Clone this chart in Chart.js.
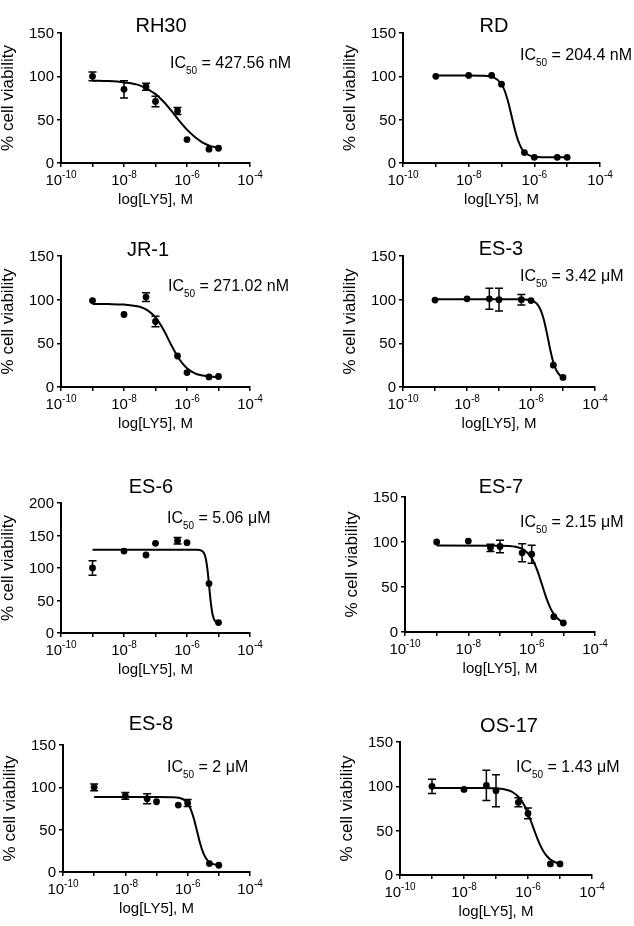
<!DOCTYPE html>
<html>
<head>
<meta charset="utf-8">
<script src="https://cdn.jsdelivr.net/npm/chart.js@4.4.1/dist/chart.umd.min.js"></script>
<style>
  body { margin: 0; background: #fff; }
  #page { position: relative; width: 634px; height: 926px; overflow: hidden; background: #fff; }
  #page canvas { position: absolute; }
</style>
</head>
<body>
<div id="page"></div>
<script>
// ---- data ----
const cellLines = ['RH30', 'RD', 'JR-1', 'ES-3', 'ES-6', 'ES-7', 'ES-8', 'OS-17'];
const ic50Values = ['427.56 nM', '204.4 nM', '271.02 nM', '3.42 μM', '5.06 μM', '2.15 μM', '2 μM', '1.43 μM'];
const concentrations = [1e-9, 1e-8, 5e-8, 1e-7, 5e-7, 1e-6, 5e-6, 1e-5];
const yAxisMax = [150, 150, 150, 150, 200, 150, 150, 150];
const yTickStep = 50;
const xTickExponents = [-10, -9, -8, -7, -6, -5, -4];
const xLabelExponents = [-10, -8, -6, -4];

// % cell viability (mean) and error at each concentration
const rh30Mean = [100, 85, 88, 71, 60, 27, 16, 17];
const rh30Err = [5, 10, 4, 6, 4, 3, 1, 1];
const rdMean = [100, 101, 101, 91, 12, 6.5, 6.5, 6.5];
const rdErr = [1, 1, 1, 1, 1, 0.5, 0.5, 0.5];
const jr1Mean = [99, 83, 103, 75, 35.5, 16.5, 11.5, 12];
const jr1Err = [3, 1, 5, 6, 1.5, 1, 1, 1];
const es3Mean = [99.5, 101, 101, 100, 100, 99, 25, 11];
const es3Err = [2.5, 1, 12, 13, 6, 1, 1.5, 1];
const es6Mean = [100, 126, 120, 138, 142, 139, 76, 16];
const es6Err = [11, 4, 1, 1, 5, 3, 4, 1];
const es7Mean = [100, 101, 93.5, 95, 88, 86.5, 17, 10];
const es7Err = [2, 1, 4, 7, 10, 10, 1, 1];
const es8Mean = [100, 90, 86.5, 83, 79, 81.5, 10, 8];
const es8Err = [4, 4, 6, 1, 1, 4, 1, 1];
const os17Mean = [100, 96.5, 101, 95, 82, 69.5, 12.5, 12.5];
const os17Err = [8, 3, 17, 18, 5, 6, 1, 1];

// fitted curves (x as log10 of concentration)
const rh30FitX = [-9, -8.5, -8, -7.5, -7, -6.75, -6.5, -6.25, -6, -5.75, -5.5, -5.25, -5];
const rh30FitY = [95, 94.5, 93, 89.5, 79.5, 71, 60.5, 49, 38.5, 30, 23.5, 19.5, 17.5];
const rdFitX = [-9, -8, -7.5, -7.25, -7, -6.9, -6.8, -6.7, -6.6, -6.5, -6.4, -6.3, -6.15, -6, -5.5, -5];
const rdFitY = [101, 101, 100.6, 99.1, 91.1, 83.1, 70.9, 55.4, 39.5, 26.5, 17.7, 12.5, 8.7, 7.3, 6.5, 6.5];
const jr1FitX = [-9, -8.5, -8, -7.5, -7.25, -7, -6.75, -6.5, -6.25, -6, -5.75, -5.5, -5.25, -5];
const jr1FitY = [95, 94.9, 94.4, 91.8, 87.7, 79.6, 65.8, 48.2, 32, 21.4, 15.7, 13.1, 11.9, 11.4];
const es3FitX = [-9, -7, -6.5, -6.2, -6, -5.9, -5.8, -5.7, -5.6, -5.5, -5.4, -5.3, -5.2, -5.1, -5];
const es3FitY = [100.5, 100.5, 100.5, 100.2, 99.3, 97.8, 94.7, 88.4, 77.3, 61, 43, 28, 18.6, 13.5, 11];
const es6FitX = [-9, -7, -6, -5.7, -5.6, -5.5, -5.45, -5.4, -5.35, -5.3, -5.25, -5.2, -5.15, -5.1, -5];
const es6FitY = [128, 128, 128, 127.9, 127.6, 125.4, 121.7, 113.5, 97.5, 73.6, 48.9, 31.5, 22.2, 18, 15.5];
const es7FitX = [-9, -7, -6.5, -6.25, -6, -5.9, -5.8, -5.7, -5.6, -5.5, -5.4, -5.3, -5.2, -5.1, -5];
const es7FitY = [96, 95.9, 94.7, 91.6, 82.2, 75.2, 66.2, 55.5, 44.5, 34.3, 26, 19.8, 15.5, 12.7, 10.9];
const es8FitX = [-9, -7, -6.5, -6.25, -6.1, -6, -5.9, -5.8, -5.7, -5.6, -5.5, -5.4, -5.3, -5.2, -5];
const es8FitY = [88.5, 88.5, 88.3, 87.3, 84.8, 81, 74, 62.8, 48.3, 33.6, 22.5, 15.5, 11.5, 9.6, 8.2];
const os17FitX = [-9, -7.5, -7, -6.75, -6.5, -6.25, -6.1, -6, -5.9, -5.8, -5.7, -5.6, -5.5, -5.4, -5.3, -5.15, -5];
const os17FitY = [98, 98, 97.6, 96.7, 93.9, 86.3, 77.5, 69.4, 60, 50, 40.5, 32.3, 25.7, 20.9, 17.5, 14.4, 12.7];

const meanSets = [rh30Mean, rdMean, jr1Mean, es3Mean, es6Mean, es7Mean, es8Mean, os17Mean];
const errSets = [rh30Err, rdErr, jr1Err, es3Err, es6Err, es7Err, es8Err, os17Err];
const fitXSets = [rh30FitX, rdFitX, jr1FitX, es3FitX, es6FitX, es7FitX, es8FitX, os17FitX];
const fitYSets = [rh30FitY, rdFitY, jr1FitY, es3FitY, es6FitY, es7FitY, es8FitY, os17FitY];

// ---- layout (page pixels) ----
const FONT = "'Liberation Sans', Arial, Helvetica, sans-serif";
const TICK_LEN = 4;
const rowTop = [0, 230, 460, 695];
const rowHeight = [230, 230, 235, 231];
// plot area: left, top, right, bottom
const plotAreas = [
  [61, 33, 250, 163], [403, 33, 600, 163],
  [61, 256, 250, 387], [403, 256, 595, 387],
  [61, 503, 250, 633], [405, 497, 595, 632],
  [63, 745, 250, 872], [400, 742, 592, 875]
];
// title centre x, baseline y
const titlePos = [[161, 32], [494, 32], [148, 256], [501, 255], [151, 493], [501, 493], [151, 730], [509, 732]];
// IC50 text left x, baseline y
const icPos = [[170, 68], [520, 60], [168, 291], [520, 281], [167, 523], [520, 527], [167, 772], [516, 772]];

// draws error bars through the chart's scales
const errorBars = {
  id: 'errorBars',
  afterDatasetsDraw(chart, args, opts) {
    const ctx = chart.ctx;
    const xs = chart.scales.x, ys = chart.scales.y;
    ctx.save();
    ctx.strokeStyle = '#000';
    ctx.lineWidth = 1.5;
    opts.mean.forEach((m, i) => {
      const x = xs.getPixelForValue(concentrations[i]);
      const y1 = ys.getPixelForValue(m + opts.err[i]);
      const y2 = ys.getPixelForValue(m - opts.err[i]);
      if (y2 - y1 < 6) return;
      ctx.beginPath();
      ctx.moveTo(x, y1); ctx.lineTo(x, y2);
      ctx.moveTo(x - 4, y1); ctx.lineTo(x + 4, y1);
      ctx.moveTo(x - 4, y2); ctx.lineTo(x + 4, y2);
      ctx.stroke();
    });
    ctx.restore();
  }
};

// tick labels, axis titles, panel title and IC50 note
const panelText = {
  id: 'panelText',
  afterDraw(chart, args, opts) {
    const ctx = chart.ctx;
    const { left, right, top, bottom } = chart.chartArea;
    const xs = chart.scales.x, ys = chart.scales.y;
    ctx.save();
    ctx.fillStyle = '#000';

    ctx.font = '15px ' + FONT;
    ctx.textAlign = 'right';
    ctx.textBaseline = 'middle';
    ys.ticks.forEach(t => ctx.fillText(String(t.value), left - 7, ys.getPixelForValue(t.value) + 1));

    ctx.textBaseline = 'alphabetic';
    ctx.textAlign = 'left';
    xLabelExponents.forEach(e => {
      const px = xs.getPixelForValue(Math.pow(10, e));
      ctx.font = '15px ' + FONT;
      const w1 = ctx.measureText('10').width;
      ctx.font = '10px ' + FONT;
      const sup = String(e);
      const w2 = ctx.measureText(sup).width;
      const x0 = px - (w1 + w2) / 2;
      ctx.font = '15px ' + FONT;
      ctx.fillText('10', x0, bottom + 22);
      ctx.font = '10px ' + FONT;
      ctx.fillText(sup, x0 + w1, bottom + 15);
    });

    ctx.font = '15px ' + FONT;
    ctx.textAlign = 'center';
    ctx.fillText('log[LY5], M', (left + right) / 2, bottom + 41);

    ctx.save();
    ctx.translate(left - 53, (top + bottom) / 2);
    ctx.rotate(-Math.PI / 2);
    ctx.textBaseline = 'middle';
    ctx.font = '17px ' + FONT;
    ctx.fillText('% cell viability', 0, 0);
    ctx.restore();

    ctx.font = '20px ' + FONT;
    ctx.textAlign = 'center';
    ctx.fillText(opts.title, opts.titleX, opts.titleY);

    ctx.textAlign = 'left';
    let x = opts.icX;
    ctx.font = '16px ' + FONT;
    ctx.fillText('IC', x, opts.icY);
    x += ctx.measureText('IC').width;
    ctx.font = '10px ' + FONT;
    ctx.fillText('50', x, opts.icY + 6);
    x += ctx.measureText('50').width;
    ctx.font = '16px ' + FONT;
    ctx.fillText(' = ' + opts.ic50, x, opts.icY);
    ctx.restore();
  }
};

const page = document.getElementById('page');

cellLines.forEach((name, i) => {
  const col = i % 2, row = Math.floor(i / 2);
  const cx = col * 317, cy = rowTop[row], cw = 317, ch = rowHeight[row];
  const [L, T, R, B] = plotAreas[i];

  const canvas = document.createElement('canvas');
  canvas.width = cw;
  canvas.height = ch;
  canvas.style.left = cx + 'px';
  canvas.style.top = cy + 'px';
  canvas.style.width = cw + 'px';
  canvas.style.height = ch + 'px';
  page.appendChild(canvas);

  const fitPoints = fitXSets[i].map((lx, k) => ({ x: Math.pow(10, lx), y: fitYSets[i][k] }));
  const meanPoints = meanSets[i].map((v, k) => ({ x: concentrations[k], y: v }));

  new Chart(canvas, {
    type: 'scatter',
    data: {
      datasets: [
        {
          data: fitPoints,
          showLine: true,
          borderColor: '#000',
          borderWidth: 2,
          pointRadius: 0,
          cubicInterpolationMode: 'monotone',
          fill: false,
          clip: false
        },
        {
          data: meanPoints,
          showLine: false,
          pointRadius: 3.4,
          pointBackgroundColor: '#000',
          pointBorderColor: '#000',
          pointBorderWidth: 0,
          clip: false
        }
      ]
    },
    options: {
      responsive: false,
      animation: false,
      devicePixelRatio: 1,
      events: [],
      layout: {
        padding: {
          left: L - cx - TICK_LEN,
          top: T - cy,
          right: cx + cw - R,
          bottom: cy + ch - B - TICK_LEN
        }
      },
      plugins: {
        legend: { display: false },
        tooltip: { enabled: false },
        errorBars: { mean: meanSets[i], err: errSets[i] },
        panelText: {
          title: name,
          titleX: titlePos[i][0] - cx,
          titleY: titlePos[i][1] - cy,
          ic50: ic50Values[i],
          icX: icPos[i][0] - cx,
          icY: icPos[i][1] - cy
        }
      },
      scales: {
        x: {
          type: 'logarithmic',
          min: 1e-10,
          max: 1e-4,
          afterBuildTicks: s => { s.ticks = xTickExponents.map(e => ({ value: Math.pow(10, e) })); },
          ticks: { display: false },
          grid: { drawOnChartArea: false, drawTicks: true, tickLength: TICK_LEN, color: '#000', lineWidth: 1.5 },
          border: { display: true, color: '#000', width: 2 }
        },
        y: {
          min: 0,
          max: yAxisMax[i],
          ticks: { display: false, stepSize: yTickStep },
          grid: { drawOnChartArea: false, drawTicks: true, tickLength: TICK_LEN, color: '#000', lineWidth: 1.5 },
          border: { display: true, color: '#000', width: 2 }
        }
      }
    },
    plugins: [errorBars, panelText]
  });
});
</script>
</body>
</html>
